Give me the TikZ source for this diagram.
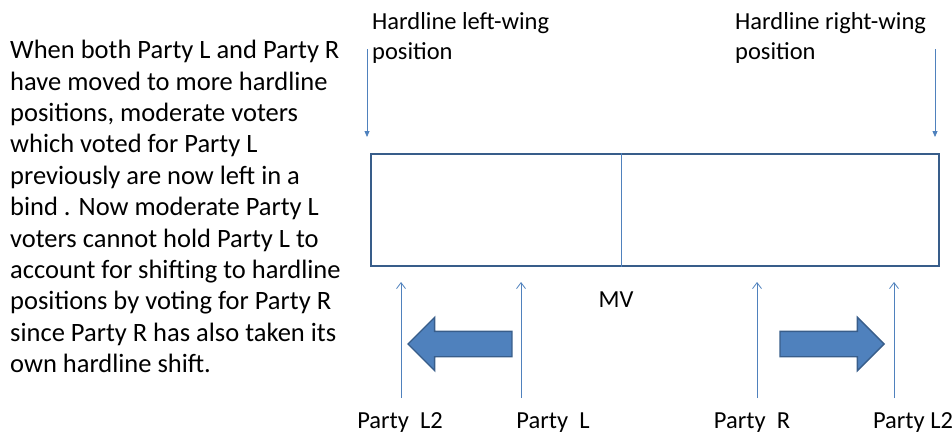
\documentclass[tikz,border=0pt]{standalone}
\usepackage{fontspec}
\setmainfont{Carlito}
\usetikzlibrary{positioning,shapes.arrows,arrows.meta}
\definecolor{Line}{HTML}{4F81BD}
\definecolor{LineDark}{HTML}{385D8A}
\begin{document}
\begin{tikzpicture}[x=1pt,y=-1pt,
	txt/.style={font=\fontsize{24.5}{30.5}\selectfont, inner sep=0pt, align=left},
	bigtxt/.style={font=\fontsize{26.5}{31.4}\selectfont, inner sep=0pt, align=left},
	pointdown/.style={draw=Line, line width=0.8pt, -{Triangle[width=5pt,length=6pt]}},
	pointup/.style={draw=Line, line width=0.8pt, -{Straight Barb[width=9pt,length=6pt,line width=0.8pt]}},
	shift arrow/.style={single arrow, draw=LineDark, fill=Line, line width=1.4pt,
		minimum height=104pt, single arrow head extend=14pt, inner xsep=0pt, inner ysep=12pt}
	]
	\useasboundingbox (0,0) rectangle (952,434);
	
	% explanation
	\node[bigtxt, anchor=north west] (story) at (10,40) {When both Party L and Party R\\
		have moved to more hardline\\
		positions, moderate voters\\
		which voted for Party L\\
		previously are now left in a\\
		bind . Now moderate Party L\\
		voters cannot hold Party L to\\
		account for shifting to hardline\\
		positions by voting for Party R\\
		since Party R has also taken its\\
		own hardline shift.};
	
	% spectrum
	\node[draw=LineDark, line width=2pt, minimum width=568pt, minimum height=112pt,
		anchor=north west, inner sep=0pt] (spectrum) at (370,153) {};
	\draw[Line, line width=0.8pt] (spectrum.north) ++(-34,0) coordinate (midtop) -- (midtop |- spectrum.south);
	
	% hardline ends
	\node[txt, anchor=north west] (hardleft) at (372,12) {Hardline left-wing\\position};
	\node[txt, anchor=north west] (hardright) at (735,12) {Hardline right-wing\\position};
	\coordinate (hlstart) at (367,49);
	\coordinate (hlend) at (367,137);
	\coordinate (hrstart) at (935,49);
	\coordinate (hrend) at (935,137);
	\draw[pointdown] (hlstart) -- (hlend);
	\draw[pointdown] (hrstart) -- (hrend);
	
	\node[txt] (mv) at (616,300) {MV};
	
	% party positions
	\node[txt, anchor=base] (pl2) at (400,428) {Party\ \ L2};
	\node[txt, anchor=base] (pl) at (553,428) {Party\ \ L};
	\node[txt, anchor=base] (pr) at (752,428) {Party\ \ R};
	\node[txt, anchor=base] (pr2) at (913,428) {Party L2};
	\foreach \px/\nm in {401/a,521/b,757/c,894/d}{
		\coordinate (low\nm) at (\px,398);
		\coordinate (high\nm) at (\px,282);
		\draw[pointup] (low\nm) -- (high\nm);
	}
	
	% shifts
	\node[shift arrow, shape border rotate=180, anchor=tip] (shiftleft) at (407,344) {};
	\node[shift arrow, anchor=tip] (shiftright) at (885,344) {};
\end{tikzpicture}
\end{document}
